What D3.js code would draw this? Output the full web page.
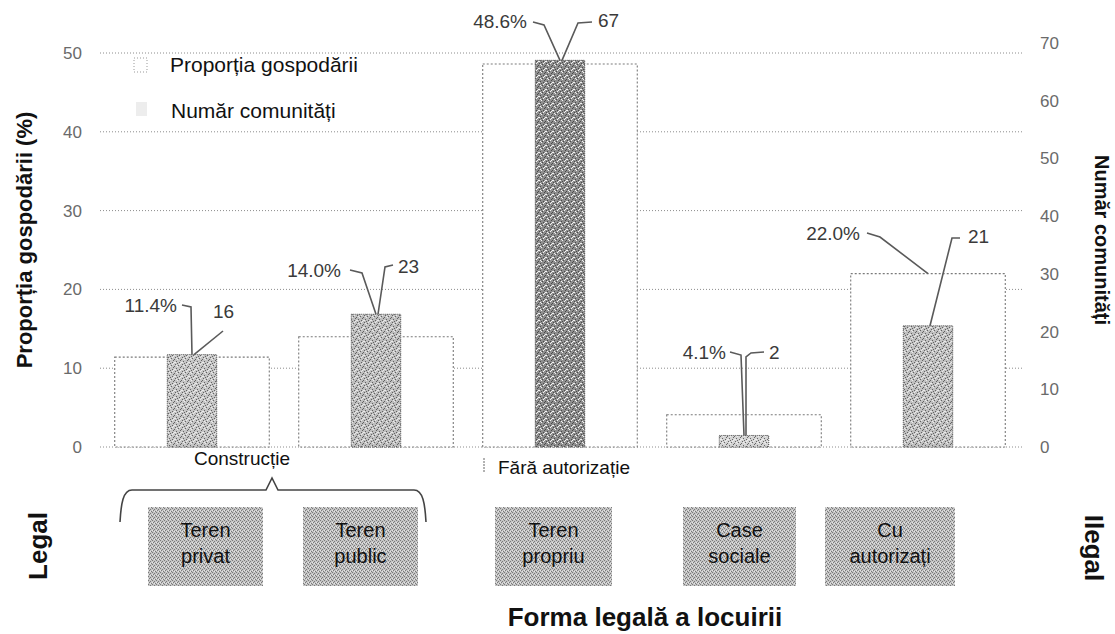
<!DOCTYPE html>
<html lang="ro">
<head>
<meta charset="utf-8">
<title>Forma legală a locuirii</title>
<script src="https://d3js.org/d3.v7.min.js"></script>
<style>
  body { margin: 0; background: #fff; }
  svg { display: block; font-family: "Liberation Sans", Arial, sans-serif; }
  .grid line { stroke: #8c8c8c; stroke-width: 1; stroke-dasharray: 1 2; }
  .tick-lbl { font-size: 17px; fill: #6a6a6a; }
  .val-lbl { font-size: 19px; fill: #3a3a3a; }
  .leader { fill: none; stroke: #5a5a5a; stroke-width: 1.6; }
  .title { font-weight: bold; fill: #111; }
</style>
</head>
<body>
<svg id="chart" width="1115" height="634"></svg>
<script>
// categories (bottom boxes), in order
const categories = ["Teren privat", "Teren public", "Teren propriu", "Case sociale", "Cu autorizați"];
const categoryLines = [["Teren", "privat"], ["Teren", "public"], ["Teren", "propriu"], ["Case", "sociale"], ["Cu", "autorizați"]];
// share of households (%), left axis
const proportion = [11.4, 14.0, 48.6, 4.1, 22.0];
// number of communities, right axis
const communities = [16, 23, 67, 2, 21];
const leftTicks = [0, 10, 20, 30, 40, 50];
const rightTicks = [0, 10, 20, 30, 40, 50, 60, 70];

// label layout per group: text offsets from bar centre + leader elbows
const labelLayout = [
  {pdx: -15, py: 307, pLine: [[-10, 305], [-1, 307]], pEnd: "n", cdx: 21, cy: 313, cLine: [[31, 331]]},
  {pdx: -35, py: 272, pLine: [[-26, 270], [-14, 273]], pEnd: "n", cdx: 22, cy: 268, cLine: [[9, 267], [17, 265]]},
  {pdx: -33, py: 23, pLine: [[-27, 22], [-16, 25]], pEnd: "n", cdx: 38, cy: 22, cLine: [[18, 23], [32, 22]]},
  {pdx: -18, py: 354, pLine: [[-14, 352], [-3, 355]], pEnd: "n", cdx: 25, cy: 354, cLine: [[2, 357], [7, 353], [20, 352]]},
  {pdx: -68, py: 235, pLine: [[-61, 233], [-48, 237]], pEnd: "w", cdx: 40, cy: 238, cLine: [[24, 238], [32, 238]]}
];
// bottom boxes (x extents)
const boxX = [[148, 263], [303, 418], [495, 612], [683, 796], [825, 955]];

const svg = d3.select("#chart");
svg.append("rect").attr("width", 1115).attr("height", 634).attr("fill", "#fff");

const defs = svg.append("defs");
// stipple used on the narrow bars
let st = defs.append("pattern").attr("id", "stipple")
  .attr("patternUnits", "userSpaceOnUse").attr("width", 7).attr("height", 7);
[[0,0],[3,1],[5,3],[1,4],[4,5],[2,6],[6,2]].forEach(p => {
  st.append("rect").attr("x", p[0]).attr("y", p[1]).attr("width", 1).attr("height", 1).attr("fill", "#4a4a4a");
});
[[2,2],[6,5],[0,5],[4,0],[1,1],[5,6]].forEach(p => {
  st.append("rect").attr("x", p[0]).attr("y", p[1]).attr("width", 1).attr("height", 1).attr("fill", "#f4f4f4");
});
// halftone used on the category boxes
let ht = defs.append("pattern").attr("id", "halftone")
  .attr("patternUnits", "userSpaceOnUse").attr("width", 4).attr("height", 4);
ht.append("rect").attr("width", 4).attr("height", 4).attr("fill", "#c4c4c4");
[[0,0],[2,1],[1,2],[3,3]].forEach(p => {
  ht.append("rect").attr("x", p[0]).attr("y", p[1]).attr("width", 1).attr("height", 1).attr("fill", "#7a7a7a");
});
[[2,3],[0,2]].forEach(p => {
  ht.append("rect").attr("x", p[0]).attr("y", p[1]).attr("width", 1).attr("height", 1).attr("fill", "#e6e6e6");
});

// scales
const x = d3.scaleBand().domain(categories).range([100, 1020]).paddingInner(0.16).paddingOuter(0.08);
const yL = d3.scaleLinear().domain([0, 50]).range([447, 53]);
const yR = d3.scaleLinear().domain([0, 70]).range([447, 43]);
const shade = d3.scaleLinear().domain([0, 70]).range(["#d6d6d6", "#8c8c8c"]);
const cx = i => x(categories[i]) + x.bandwidth() / 2;
const narrowW = x.bandwidth() * 0.32;

// gridlines
svg.append("g").attr("class", "grid").selectAll("line")
  .data(leftTicks).enter().append("line")
  .attr("x1", 100).attr("x2", 1023)
  .attr("y1", d => yL(d)).attr("y2", d => yL(d))
  .attr("stroke", d => d === 0 ? "#b0b0b0" : null);

// axes (labels only)
const axL = svg.append("g").attr("transform", "translate(82,0)")
  .call(d3.axisLeft(yL).tickValues(leftTicks).tickSize(0).tickPadding(0));
axL.select(".domain").remove();
axL.selectAll("text").attr("class", "tick-lbl").attr("font-family", null).attr("font-size", null).attr("fill", null);

const axR = svg.append("g").attr("transform", "translate(1040,0)")
  .call(d3.axisRight(yR).tickValues(rightTicks).tickSize(0).tickPadding(0));
axR.select(".domain").remove();
axR.selectAll("text").attr("class", "tick-lbl").attr("font-family", null).attr("font-size", null).attr("fill", null);

// wide bars: share of households
svg.append("g").selectAll("rect")
  .data(proportion).enter().append("rect")
  .attr("x", (d, i) => x(categories[i]))
  .attr("y", d => yL(d))
  .attr("width", x.bandwidth())
  .attr("height", d => yL(0) - yL(d))
  .attr("fill", "#fff")
  .attr("stroke", "#7a7a7a")
  .attr("stroke-width", 1.1)
  .attr("stroke-dasharray", "2 2");

// narrow bars: number of communities
const nb = svg.append("g").selectAll("g")
  .data(communities).enter().append("g");
nb.append("rect")
  .attr("x", (d, i) => cx(i) - narrowW / 2)
  .attr("y", d => yR(d))
  .attr("width", narrowW)
  .attr("height", d => yR(0) - yR(d))
  .attr("fill", d => shade(d));
nb.append("rect")
  .attr("x", (d, i) => cx(i) - narrowW / 2)
  .attr("y", d => yR(d))
  .attr("width", narrowW)
  .attr("height", d => yR(0) - yR(d))
  .attr("fill", "url(#stipple)")
  .attr("fill-opacity", d => d > 50 ? 1 : 0.8)
  .attr("stroke", "#555")
  .attr("stroke-width", 1)
  .attr("stroke-dasharray", "1 1");

// value labels with leader lines
const line = d3.line();
labelLayout.forEach((L, i) => {
  const c = cx(i);
  const topN = yR(communities[i]);
  const topW = yL(proportion[i]);
  const target = L.pEnd === "n" ? topN : topW;
  svg.append("path").attr("class", "leader")
    .attr("d", line(L.pLine.map(p => [c + p[0], p[1]]).concat([[c, target]])));
  svg.append("path").attr("class", "leader")
    .attr("d", line([[c + 2, topN]].concat(L.cLine.map(p => [c + p[0], p[1]]))));
  svg.append("text").attr("class", "val-lbl")
    .attr("x", c + L.pdx).attr("y", L.py)
    .attr("text-anchor", "end").attr("dominant-baseline", "middle")
    .text(proportion[i].toFixed(1) + "%");
  svg.append("text").attr("class", "val-lbl")
    .attr("x", c + L.cdx).attr("y", L.cy)
    .attr("dominant-baseline", "middle")
    .text(communities[i]);
});

// legend
const lg = svg.append("g");
lg.append("rect").attr("x", 134).attr("y", 58).attr("width", 13).attr("height", 14)
  .attr("fill", "#fff").attr("stroke", "#999").attr("stroke-dasharray", "1 2");
lg.append("rect").attr("x", 136).attr("y", 102).attr("width", 11).attr("height", 14)
  .attr("fill", "#ededed");
lg.append("text").attr("x", 170).attr("y", 66).attr("dominant-baseline", "middle")
  .attr("font-size", 21).attr("fill", "#111").text("Proporția gospodării");
lg.append("text").attr("x", 171).attr("y", 112).attr("dominant-baseline", "middle")
  .attr("font-size", 21).attr("fill", "#111").text("Număr comunități");

// axis titles
svg.append("text").attr("class", "title").attr("font-size", 22)
  .attr("text-anchor", "middle")
  .attr("transform", "translate(26,240) rotate(-90)")
  .attr("dominant-baseline", "middle")
  .text("Proporția gospodării (%)");
svg.append("text").attr("class", "title").attr("font-size", 20)
  .attr("text-anchor", "middle")
  .attr("transform", "translate(1100,240) rotate(90)")
  .attr("dominant-baseline", "middle")
  .text("Număr comunități");

// group labels under the bars
svg.append("text").attr("x", 242).attr("y", 460).attr("text-anchor", "middle")
  .attr("dominant-baseline", "middle").attr("font-size", 19).attr("fill", "#111")
  .text("Construcție");
svg.append("text").attr("x", 498).attr("y", 469)
  .attr("dominant-baseline", "middle").attr("font-size", 19).attr("fill", "#111")
  .text("Fără autorizație");
svg.append("line").attr("x1", 484).attr("x2", 484).attr("y1", 458).attr("y2", 473)
  .attr("stroke", "#666").attr("stroke-dasharray", "2 1");

// brace over the two legal construction categories
svg.append("path")
  .attr("d", "M120,522 C121,504 123,490 132,490 L266,490 L272,478 L278,490 L414,490 C423,490 425,504 426,522")
  .attr("fill", "none").attr("stroke", "#444").attr("stroke-width", 1.6);

// category boxes
const bx = svg.append("g").selectAll("g")
  .data(categories).enter().append("g");
bx.append("rect")
  .attr("x", (d, i) => boxX[i][0]).attr("y", 507)
  .attr("width", (d, i) => boxX[i][1] - boxX[i][0]).attr("height", 79)
  .attr("fill", "url(#halftone)");
bx.each(function(d, i) {
  const g = d3.select(this);
  const mid = (boxX[i][0] + boxX[i][1]) / 2;
  categoryLines[i].forEach((t, k) => {
    g.append("text").attr("x", mid).attr("y", 532 + k * 26)
      .attr("text-anchor", "middle").attr("dominant-baseline", "middle")
      .attr("font-size", 20).attr("fill", "#111").text(t);
  });
});

// Legal / Ilegal side labels and x title
svg.append("text").attr("class", "title").attr("font-size", 26)
  .attr("text-anchor", "middle").attr("dominant-baseline", "middle")
  .attr("transform", "translate(40,546) rotate(-90)").text("Legal");
svg.append("text").attr("class", "title").attr("font-size", 26)
  .attr("text-anchor", "middle").attr("dominant-baseline", "middle")
  .attr("transform", "translate(1092,548) rotate(90)").text("Ilegal");
svg.append("text").attr("class", "title").attr("font-size", 26)
  .attr("x", 645).attr("y", 619).attr("text-anchor", "middle")
  .attr("dominant-baseline", "middle").text("Forma legală a locuirii");
</script>
</body>
</html>
